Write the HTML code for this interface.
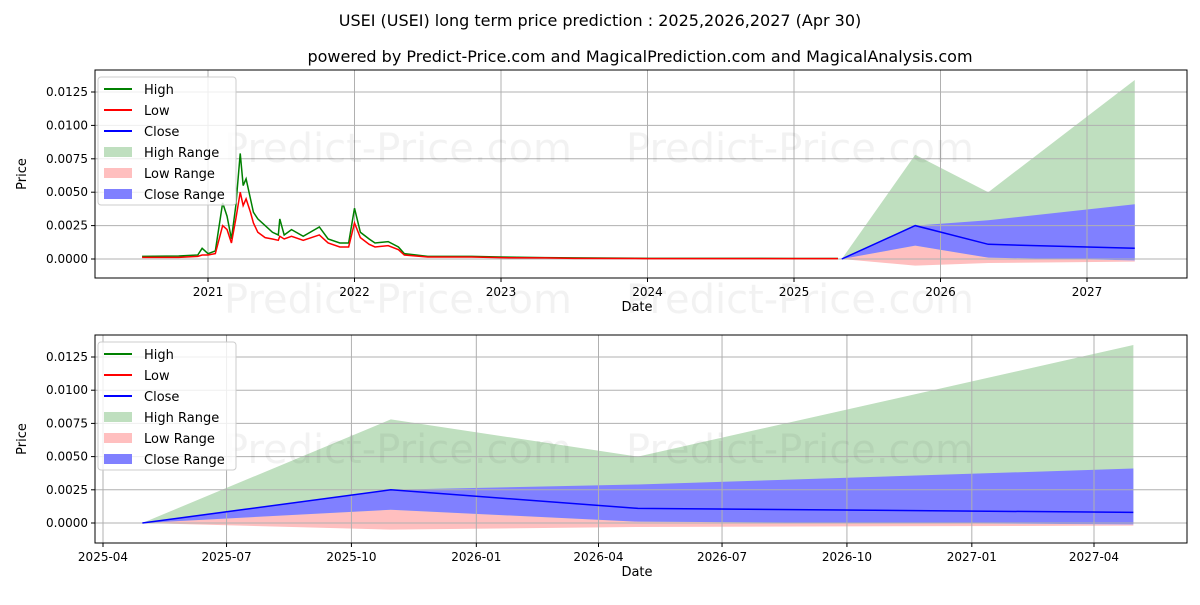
<!DOCTYPE html>
<html><head><meta charset="utf-8"><style>
body{margin:0;background:#fff;font-family:"Liberation Sans","DejaVu Sans",sans-serif;}
svg text{font-family:"DejaVu Sans","Liberation Sans",sans-serif;}
</style></head><body>
<svg id="c" width="1200" height="600" xmlns="http://www.w3.org/2000/svg">
<text x="600" y="26" text-anchor="middle" font-size="16">USEI (USEI) long term price prediction : 2025,2026,2027 (Apr 30)</text>
<text x="640" y="62" text-anchor="middle" font-size="16">powered by Predict-Price.com and MagicalPrediction.com and MagicalAnalysis.com</text>
<g id="top"></g><g id="bot"></g>
</svg>
<script>
const histYears=[2020.55,2020.8,2020.93,2020.96,2021.0,2021.05,2021.1,2021.13,2021.16,2021.19,2021.22,2021.24,2021.26,2021.29,2021.31,2021.34,2021.39,2021.44,2021.48,2021.49,2021.52,2021.57,2021.65,2021.76,2021.82,2021.9,2021.96,2022.0,2022.04,2022.1,2022.14,2022.23,2022.3,2022.34,2022.5,2022.8,2023.0,2023.3,2023.5,2024.0,2024.5,2025.0,2025.3];
const histHigh=[0.0002,0.00022,0.0003,0.0008,0.0004,0.0006,0.0042,0.0032,0.0015,0.004,0.0079,0.0055,0.006,0.0045,0.0035,0.003,0.0025,0.002,0.0018,0.003,0.0018,0.0022,0.0017,0.0024,0.0015,0.0012,0.0012,0.0038,0.002,0.0015,0.0012,0.0013,0.0009,0.0004,0.0002,0.0002,0.00015,0.0001,0.00008,0.00005,0.00005,0.00004,0.00004];
const histLow=[0.00012,0.00012,0.0002,0.0003,0.0003,0.0004,0.0025,0.0022,0.0012,0.003,0.005,0.004,0.0045,0.0035,0.0027,0.002,0.0016,0.0015,0.0014,0.0017,0.0015,0.0017,0.0014,0.0018,0.0012,0.0009,0.0009,0.0027,0.0016,0.0011,0.0009,0.001,0.0007,0.0003,0.00015,0.00015,0.0001,0.00008,0.00005,0.00003,0.00003,0.00003,0.00003];
const predDates=["2025-04-30","2025-10-30","2026-04-30","2027-04-30"];
const predHighUp=[0,0.0078,0.005,0.0134];
const predHighLo=[0,0,0,0];
const predLowUp=[0,0.001,0.0001,-0.0001];
const predLowLo=[0,-0.0005,-0.0003,-0.0002];
const predCloseUp=[0,0.0025,0.0029,0.0041];
const predCloseLo=[0,0.001,0.0001,-0.0001];
const predClose=[0,0.0025,0.0011,0.0008];
const yTicks=[0,0.0025,0.005,0.0075,0.01,0.0125];
const topXTicks=[2021,2022,2023,2024,2025,2026,2027];
const botXTicks=["2025-04","2025-07","2025-10","2026-01","2026-04","2026-07","2026-10","2027-01","2027-04"];
const NS="http://www.w3.org/2000/svg";
function mk(p,t,a){const e=document.createElementNS(NS,t);for(const k in a)e.setAttribute(k,a[k]);p.appendChild(e);return e;}
function dayNum(s){const p=s.split("-");return Date.UTC(+p[0],+p[1]-1,p[2]?+p[2]:1)/864e5;}
function toYear(s){const d=dayNum(s);const y=+s.slice(0,4);const a=Date.UTC(y,0,1)/864e5,b=Date.UTC(y+1,0,1)/864e5;return y+(d-a)/(b-a);}
function panel(g,L,T,R,B,y0,xs,ticks,tickLab,pts,hist,wms){
  const ys=v=>y0-v/0.0125*(y0-(T+22));
  mk(g,'rect',{x:L,y:T,width:R-L,height:B-T,fill:'#fff'});
  function band(up,lo,col,name){let d='';pts.forEach((x,i)=>d+=(i?'L':'M')+x+','+ys(up[i]));
    for(let i=pts.length-1;i>=0;i--)d+='L'+pts[i]+','+ys(lo[i]);
    const p=mk(g,'path',{d:d+'Z',fill:col});}
  band(predHighUp,predHighLo,'#bfdfbf','high-range');
  band(predLowUp,predLowLo,'#ffbfbf','low-range');
  band(predCloseUp,predCloseLo,'#8080ff','close-range');
  ticks.forEach((t,i)=>{const x=xs(t);const l=mk(g,'line',{x1:x,x2:x,y1:T,y2:B,stroke:'#b0b0b0','stroke-width':1});
    
    mk(g,'line',{x1:x,x2:x,y1:B,y2:B+4,stroke:'#000'});
    const tx=mk(g,'text',{x:x,y:B+18,'text-anchor':'middle','font-size':12});tx.textContent=tickLab[i];
    });
  yTicks.forEach(v=>{const y=ys(v);mk(g,'line',{x1:L,x2:R,y1:y,y2:y,stroke:'#b0b0b0'});
    mk(g,'line',{x1:L-4,x2:L,y1:y,y2:y,stroke:'#000'});
    const tx=mk(g,'text',{x:L-7,y:y+4,'text-anchor':'end','font-size':12});tx.textContent=v.toFixed(4);
    });
  if(hist){
    const hp=histYears.map((y,i)=>xs(y)+','+ys(histHigh[i])).join(' ');
    const lp=histYears.map((y,i)=>xs(y)+','+ys(histLow[i])).join(' ');
    const h=mk(g,'polyline',{points:hp,fill:'none',stroke:'green','stroke-width':1.5});
    
    const l=mk(g,'polyline',{points:lp,fill:'none',stroke:'red','stroke-width':1.5});
    
  }
  const cl=mk(g,'polyline',{points:pts.map((x,i)=>x+','+ys(predClose[i])).join(' '),fill:'none',stroke:'blue','stroke-width':1.5});
  
  wms.forEach(wy=>[398,800].forEach(cx=>{
    const t=mk(g,'text',{x:cx,y:wy,'text-anchor':'middle','font-size':40,fill:'#000','fill-opacity':0.05});t.textContent='Predict-Price.com';
    }));
  mk(g,'rect',{x:L,y:T,width:R-L,height:B-T,fill:'none',stroke:'#000','stroke-width':1});
  const xl=mk(g,'text',{x:(L+R)/2-4,y:B+33,'text-anchor':'middle','font-size':13});xl.textContent='Date';
  
  const yl=mk(g,'text',{x:26,y:(T+B)/2,'text-anchor':'middle','font-size':13,transform:`rotate(-90 26 ${(T+B)/2})`});yl.textContent='Price';
  
  const lg=mk(g,'g',{});
  mk(lg,'rect',{x:98,y:T+7,width:138,height:128,fill:'#fff','fill-opacity':0.8,stroke:'#ccc',rx:3});
  [['High','green',0],['Low','red',0],['Close','blue',0],['High Range','#bfdfbf',1],['Low Range','#ffbfbf',1],['Close Range','#8080ff',1]].forEach((e,i)=>{
    const y=T+19+i*21;
    if(e[2]===0)mk(lg,'line',{x1:104,x2:132,y1:y,y2:y,stroke:e[1],'stroke-width':2});
    else mk(lg,'rect',{x:104,y:y-5,width:28,height:10,fill:e[1]});
    const t=mk(lg,'text',{x:144,y:y+5,'font-size':13});t.textContent=e[0];
    });
}
const xsTop=y=>208+(y-2021)*146.5;
panel(document.getElementById('top'),95,70,1187,278,259,xsTop,topXTicks,topXTicks.map(String),predDates.map(d=>xsTop(toYear(d))),true,[162,313]);
const d0=dayNum("2025-04-01");
const xsBot=s=>103+(dayNum(s)-d0)*(991/730);
panel(document.getElementById('bot'),95,335,1187,543,523,xsBot,botXTicks,botXTicks,predDates.map(xsBot),false,[463]);
</script>
</body></html>
